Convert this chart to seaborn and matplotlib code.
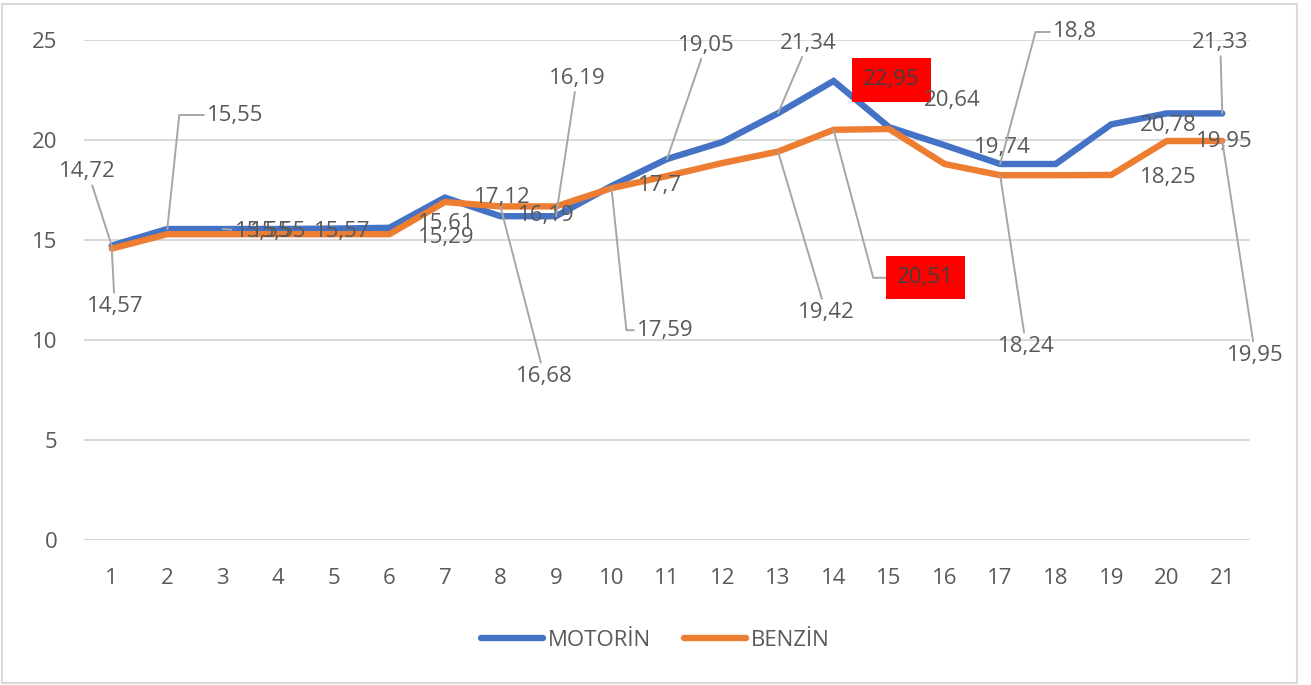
import pandas as pd
import numpy as np
import matplotlib.pyplot as plt
import seaborn as sns
from matplotlib.patches import Rectangle

sns.set_style("white")
plt.rcParams['font.family'] = ['Open Sans', 'DejaVu Sans']

# values
periods = list(range(1, 22))
motorin = [14.72, 15.55, 15.55, 15.55, 15.57, 15.61, 17.12, 16.19, 16.19, 17.7, 19.05,
           19.9, 21.34, 22.95, 20.64, 19.74, 18.8, 18.8, 20.78, 21.33, 21.33]
benzin = [14.57, 15.29, 15.29, 15.29, 15.29, 15.29, 16.9, 16.68, 16.68, 17.59, 18.2,
          18.85, 19.42, 20.51, 20.55, 18.8, 18.24, 18.24, 18.25, 19.95, 19.95]
series_names = ['MOTORİN', 'BENZİN']
colors = ['#4472C4', '#ED7D31']

data = pd.DataFrame({
    'period': periods * 2,
    'value': motorin + benzin,
    'series': [series_names[0]] * len(periods) + [series_names[1]] * len(periods),
})

# data labels: (series, period, dx px, dy px, leader, highlight)
labels = [
    (0, 1, -24, 74, 'line', False),
    (0, 2, 68, 114, ('elbow', 84), False),
    (0, 3, 40, -3, 'line', False),
    (0, 4, 0, -3, None, False),
    (0, 5, 8, -3, None, False),
    (0, 6, 57, 4, None, False),
    (1, 6, 57, -3, None, False),
    (0, 7, 57, 0, None, False),
    (0, 8, 46, 1, None, False),
    (0, 9, 21, 138, 'line', False),
    (0, 10, 48, 1, None, False),
    (0, 11, 39, 114, 'line', False),
    (0, 13, 30, 70, 'line', False),
    (0, 14, 58, 1, None, True),
    (0, 15, 63, 27, None, False),
    (0, 16, 58, -2, None, False),
    (0, 17, 75, 132, ('elbow', 75), False),
    (0, 19, 57, -1, None, False),
    (0, 21, -2, 71, 'line', False),
    (1, 1, 3, -58, 'line', False),
    (1, 8, 44, -170, 'line', False),
    (1, 10, 54, -142, ('elbow', -84), False),
    (1, 13, 48, -161, 'line', False),
    (1, 14, 92, -148, ('elbow', -75), True),
    (1, 17, 26, -171, 'line', False),
    (1, 19, 57, -2, None, False),
    (1, 20, 58, -1, None, False),
    (1, 21, 33, -214, 'line', False),
]

fig = plt.figure(figsize=(13.11, 6.85), dpi=100)
ax = fig.add_axes([84 / 1311, 1 - 540 / 685, (1250 - 84) / 1311, 500 / 685])

sns.lineplot(data=data, x='period', y='value', hue='series', palette=colors,
             linewidth=4.6, ax=ax, legend=False)
for line in ax.lines:
    line.set_solid_capstyle('round')
    line.set_solid_joinstyle('miter')

ax.set_xlim(0.5, 21.5)
ax.set_ylim(0, 25)
ax.set_yticks([0, 5, 10, 15, 20, 25])
ax.set_xticks(periods)
ax.grid(axis='y', color='#D9D9D9', linewidth=1.5)
ax.set_axisbelow(True)
for s in ax.spines.values():
    s.set_visible(False)
ax.tick_params(axis='x', length=0, pad=20, labelsize=16, labelcolor='#595959')
ax.tick_params(axis='y', length=0, pad=19, labelsize=16, labelcolor='#595959')
ax.set_xlabel('')
ax.set_ylabel('')

values = [motorin, benzin]
for s, p, dx, dy, leader, hot in labels:
    v = values[s][p - 1]
    txt = f'{v:g}'.replace('.', ',')
    kw = dict(textcoords='offset pixels', ha='center', va='center', fontsize=16,
              color='#404040' if hot else '#595959', zorder=5)
    if hot:
        kw['bbox'] = dict(boxstyle='square,pad=0.5', fc='#FF0000', ec='none')
    if leader == 'line':
        kw['arrowprops'] = dict(arrowstyle='-', color='#A6A6A6', lw=1.4, shrinkA=0, shrinkB=0)
    elif isinstance(leader, tuple):
        kw['arrowprops'] = dict(arrowstyle='-', color='#A6A6A6', lw=1.4, shrinkA=0, shrinkB=0,
                                relpos=(0, 0.5),
                                connectionstyle=f'angle,angleA=0,angleB={leader[1]},rad=0')
    ax.annotate(txt, xy=(p, v), xytext=(dx, dy), **kw)

handles = [plt.Line2D([], [], color=c, linewidth=4.6, solid_capstyle='round') for c in colors]
fig.legend(handles, series_names, loc='center', bbox_to_anchor=(655 / 1311, 1 - 640 / 685),
           ncol=2, frameon=False, fontsize=16, handlelength=2.8, handletextpad=0.2,
           columnspacing=1.5, labelcolor='#595959')

fig.patches.append(Rectangle((2 / 1311, 2 / 685), (1297 - 2) / 1311, (683 - 4) / 685,
                             transform=fig.transFigure, fill=False, ec='#D9D9D9', lw=1.5))

fig.savefig('out.png', dpi=100)
